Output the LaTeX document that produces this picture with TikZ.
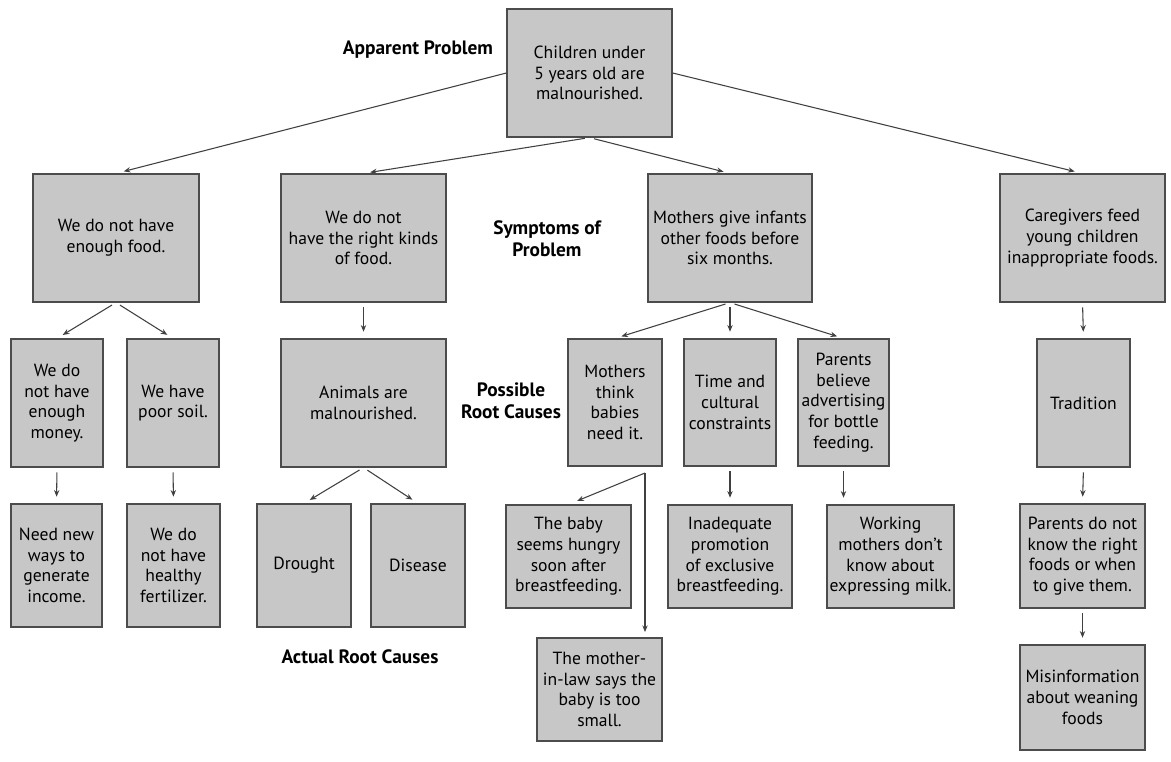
\documentclass[tikz,border=0pt]{standalone}
\usepackage{fontspec}
\setmainfont{PT Sans}
\usetikzlibrary{arrows.meta,calc,positioning}

\begin{document}
\begin{tikzpicture}[x=.75pt,y=-.75pt,font=\fontsize{13.2}{15.5}\selectfont,
    >={Stealth[length=5pt,width=4pt]},
    box/.style={draw=black!70,fill=black!22,line width=.9pt,align=center,inner sep=2pt},
    wh/.style 2 args={minimum width=#1*.75pt,minimum height=#2*.75pt},
    lab/.style={font=\fontsize{14.5}{16.5}\selectfont\bfseries,align=center},
    link/.style={->,draw=black!75,line width=.8pt}]
 \useasboundingbox (0,0) rectangle (1171,762);
 \node[box,wh={165}{128}] (root) at (589.5,73)
   {Children under\\5 years old are\\malnourished.};
 \node[lab] (apparent) at (418,50) {Apparent Problem};
 \node[lab] (symptoms) at (547,239) {Symptoms of\\Problem};
 \node[lab] (possible) at (511,401) {Possible\\Root Causes};
 \node[lab] (actual) at (360,657) {Actual Root Causes};

 \node[box,wh={166}{128}] (A1) at (116,238) {We do not have\\enough food.};
 \node[box,wh={165}{128}] (B1) at (363.5,238) {We do not\\have the right kinds\\of food.};
 \node[box,wh={164}{128}] (C1) at (730,238)
   {Mothers give infants\\other foods before\\six months.};
 \node[box,wh={165}{128}] (D1) at (1082.5,238)
   {Caregivers feed\\young children\\inappropriate foods.};

 \node[box,wh={92}{128}] (A2a) at (57,403) {We do\\not have\\enough\\money.};
 \node[box,wh={92}{128}] (A2b) at (173,403) {We have\\poor soil.};
 \node[box,wh={91}{123}] (A3a) at (56.5,565.5) {Need new\\ways to\\generate\\income.};
 \node[box,wh={93}{123}] (A3b) at (173.5,565.5) {We do\\not have\\healthy\\fertilizer.};

 \node[box,wh={165}{128}] (B2) at (363.5,403) {Animals are\\malnourished.};
 \node[box,wh={94}{123}] (B3a) at (304,565.5) {Drought};
 \node[box,wh={94}{123}] (B3b) at (418,565.5) {Disease};

 \node[box,wh={94}{127}] (C2a) at (615,402.5) {Mothers\\think\\babies\\need it.};
 \node[box,wh={92}{127}] (C2b) at (730,402.5) {Time and\\cultural\\constraints};
 \node[box,wh={91}{127}] (C2c) at (843.5,402.5)
   {Parents\\believe\\advertising\\for bottle\\feeding.};
 \node[box,wh={125}{103}] (C3a) at (568.5,556.5)
   {The baby\\seems hungry\\soon after\\breastfeeding.};
 \node[box,wh={124}{103}] (C3b) at (730,556.5)
   {Inadequate\\promotion\\of exclusive\\breastfeeding.};
 \node[box,wh={125}{103}] (C3c) at (890.5,556.5)
   {Working\\mothers don’t\\know about\\expressing milk.};
 \node[box,wh={125}{103}] (C4) at (599.5,689.5)
   {The mother-\\in-law says the\\baby is too\\small.};

 \node[box,wh={93}{128}] (D2) at (1083.5,403) {Tradition};
 \node[box,wh={125}{104}] (D3) at (1082.5,556)
   {Parents do not\\know the right\\foods or when\\to give them.};
 \node[box,wh={125}{105}] (D4) at (1082.5,697.5)
   {Misinformation\\about weaning\\foods};

 \draw[link,shorten >=6pt] (root.west) -- (A1.north);
 \draw[link,shorten >=6pt] (root.east) -- (D1.north);
 \foreach \a/\b in {root/B1,root/C1,A1/A2a,A1/A2b,A2a/A3a,A2b/A3b,
    B1/B2,B2/B3a,B2/B3b,C1/C2a,C1/C2b,C1/C2c,C2b/C3b,
    D1/D2,D2/D3,D3/D4}
    \draw[link,shorten <=3.5pt,shorten >=5pt] (\a.south) -- (\b.north);
 \draw[link,shorten <=3.5pt,shorten >=5pt] (C2c.south) -- (C2c.south |- C3c.north);
 \coordinate (fork) at (645,473);
 \draw[link,shorten >=7pt] (fork) -- (C3a.north);
 \draw[link,shorten >=4pt] (fork) -- (fork |- C4.north);
\end{tikzpicture}
\end{document}
